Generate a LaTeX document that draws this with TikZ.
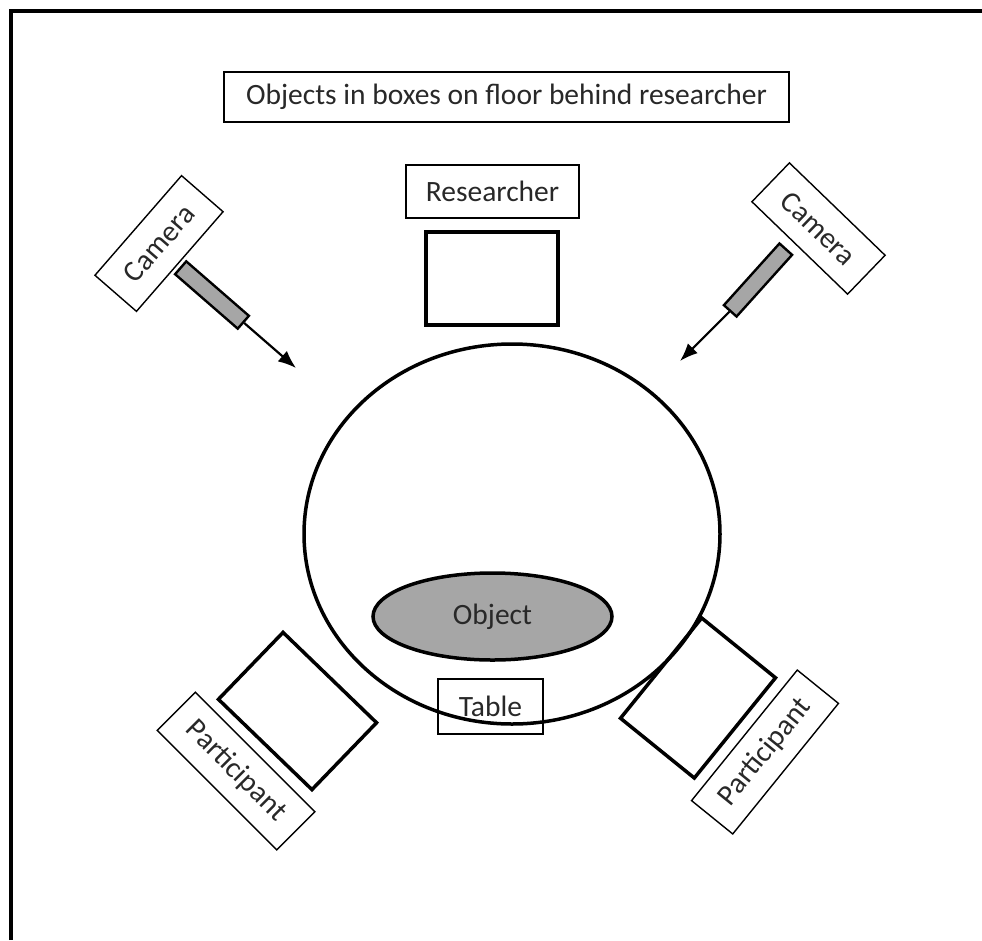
\documentclass[tikz,border=0pt]{standalone}
\usepackage{fontspec}
\setmainfont{Carlito}
\usetikzlibrary{arrows.meta,shapes.geometric}

\definecolor{lensgrey}{RGB}{166,166,166}
\definecolor{inkgrey}{RGB}{40,40,40}
\tikzset{every picture/.style={line width=1.3pt}}
\tikzset{
  tag/.style={draw, line width=1.4, inner sep=0pt, text=inkgrey, font=\fontsize{29.5}{34}\selectfont},
  seat/.style={draw, line width=3.5, inner sep=0pt},
  lens/.style={draw, line width=2.4, fill=lensgrey, inner sep=0pt, minimum width=83, minimum height=17},
  aim/.style={line width=2.2, -{Latex[length=18pt,width=14pt]}},
}

\begin{document}
\begin{tikzpicture}[x=1pt,y=1pt,yscale=-1]
	\useasboundingbox (0,0) rectangle (982,940);

	% Frame
	\draw [line width=4]    (11,940) -- (11,11) -- (982,11) ;

	% Text Node
	\node (title) [tag, minimum width=565, minimum height=50] at (506.5,97) {Objects in boxes on floor behind researcher};
	% Text Node
	\node (resTag) [tag, minimum width=173, minimum height=53] at (492.5,191.5) {Researcher};
	% Seat
	\node (resSeat) [seat, minimum width=132, minimum height=93] at (492,278.5) {};

	% Table
	\node (table) [draw, ellipse, line width=3.5, inner sep=0pt, minimum width=416, minimum height=380] at (512,534) {};
	% Text Node
	\node (object) [draw, ellipse, line width=3.5, fill=lensgrey, inner sep=0pt, minimum width=239, minimum height=87, text=inkgrey, font=\fontsize{29.5}{34}\selectfont] at (492.5,616.5) {Object};
	% Text Node
	\node (tableTag) [tag, minimum width=105, minimum height=55] at (490.5,706.5) {Table};

	% Text Node
	\node (camTagL) [tag, rotate=49, minimum width=132, minimum height=55] at (159,243.5) {Camera};
	\node (camL) [lens, rotate=-41] at (212,295) {};
	\coordinate (aimL) at (296,368);
	% Connection
	\draw [aim]    (camL.east) -- (aimL) ;

	% Text Node
	\node (camTagR) [tag, rotate=-44, minimum width=133, minimum height=54] at (818.5,228.5) {Camera};
	\node (camR) [lens, rotate=-132] at (758,280) {};
	\coordinate (aimR) at (680,361);
	% Connection
	\draw [aim]    (camR.east) -- (aimR) ;

	% Seat
	\node (seatL) [seat, rotate=-44, minimum width=130, minimum height=93] at (297.5,711) {};
	% Text Node
	\node (partTagL) [tag, rotate=-45, minimum width=169, minimum height=54] at (236,771) {Participant};

	% Seat
	\node (seatR) [seat, rotate=51, minimum width=129, minimum height=95] at (698,698) {};
	% Text Node
	\node (partTagR) [tag, rotate=51, minimum width=168, minimum height=53] at (765,752) {Participant};

\end{tikzpicture}
\end{document}
